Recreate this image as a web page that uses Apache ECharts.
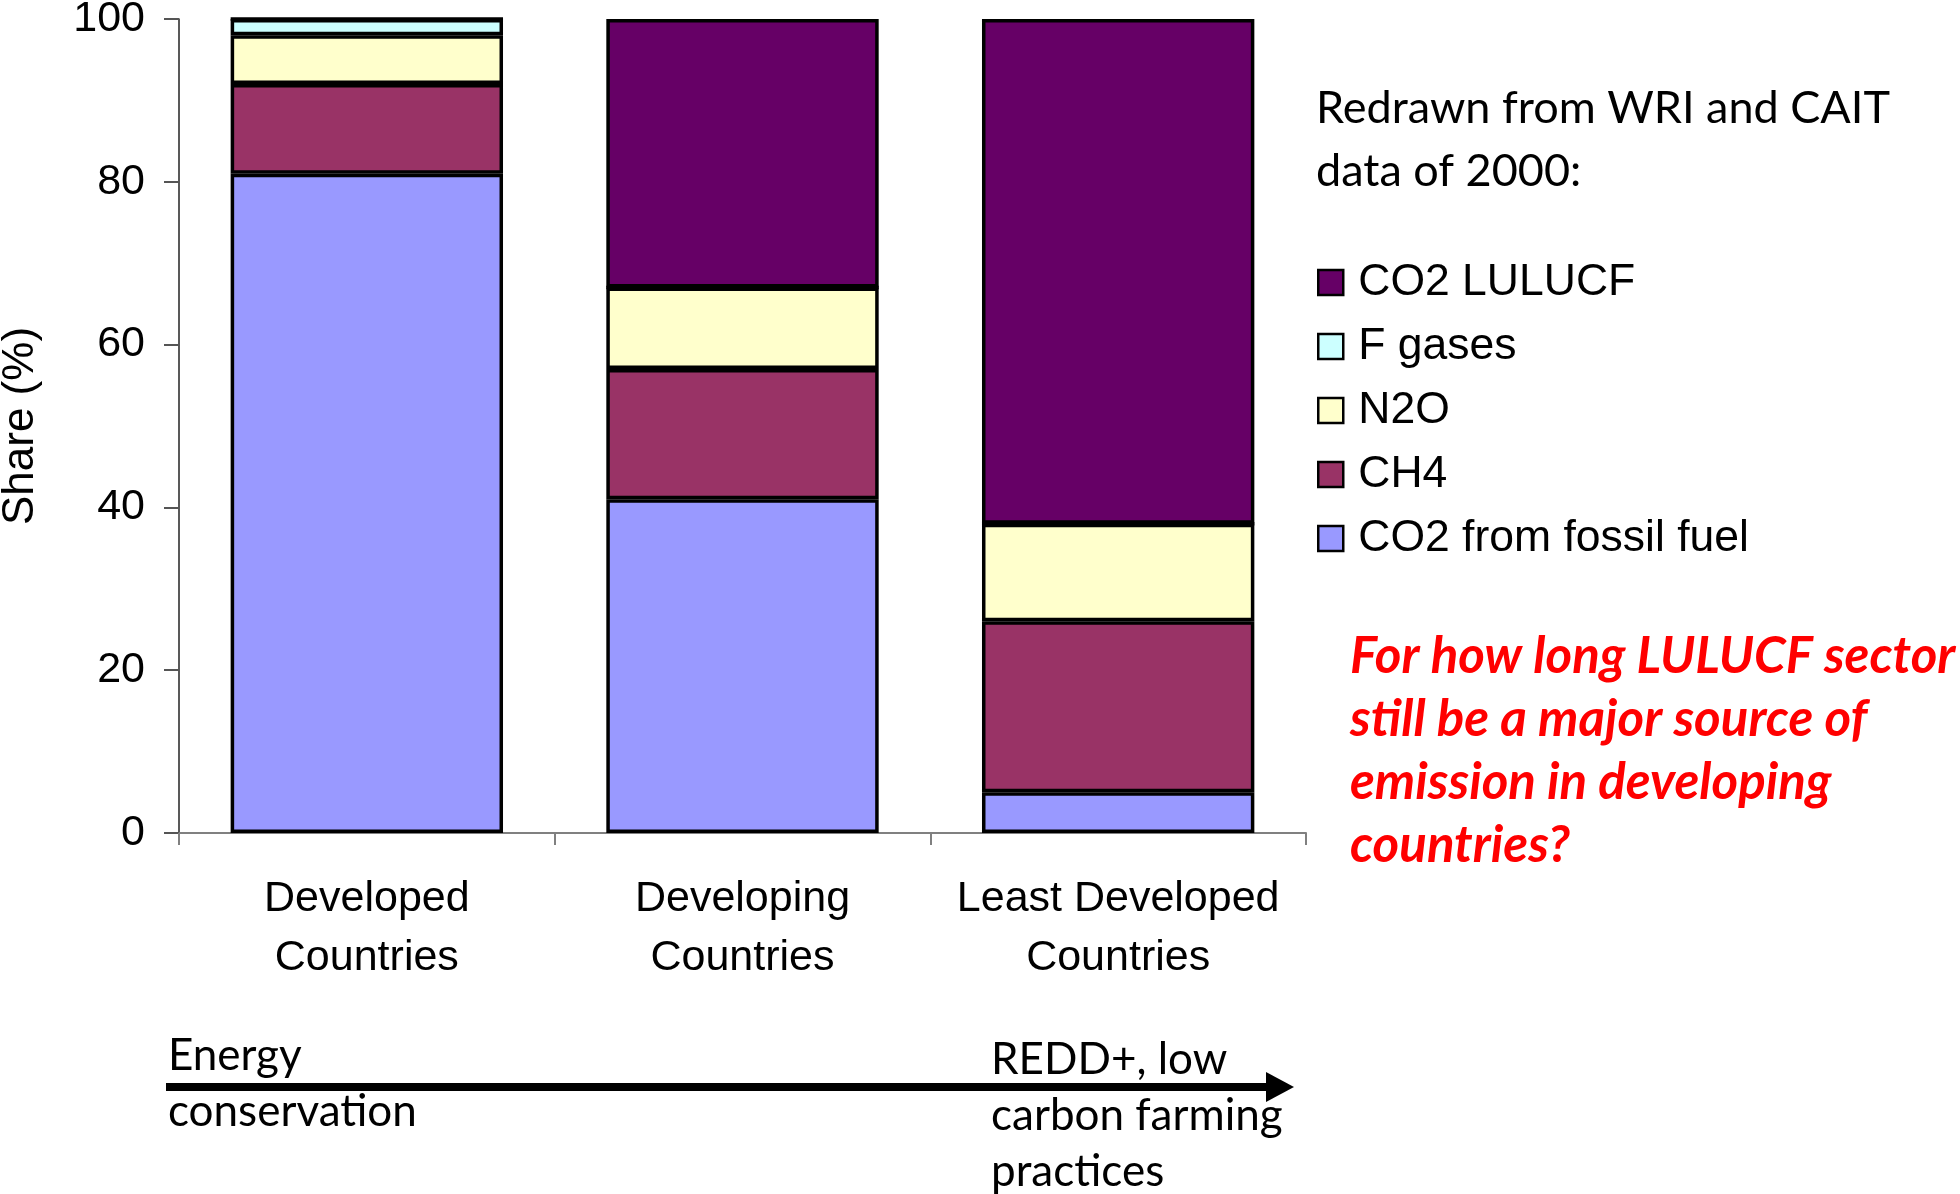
<!DOCTYPE html>
<html>
<head>
<meta charset="utf-8">
<script src="https://cdn.jsdelivr.net/npm/echarts@6/dist/echarts.min.js"></script>
<style>
html,body{margin:0;padding:0;background:#fff;}
#chart{width:1960px;height:1194px;}
</style>
</head>
<body>
<div id="chart"></div>
<script>
const categories = ['Developed\nCountries', 'Developing\nCountries', 'Least Developed\nCountries'];
const seriesNames = ['CO2 from fossil fuel', 'CH4', 'N2O', 'F gases', 'CO2 LULUCF'];
const co2Fossil = [81, 41, 5];
const ch4 = [11, 16, 21];
const n2o = [6, 10, 12];
const fGases = [2, 0, 0];
const co2Lulucf = [0, 33, 62];
const yTicks = [0, 20, 40, 60, 80, 100];
const legendOrder = ['CO2 LULUCF', 'F gases', 'N2O', 'CH4', 'CO2 from fossil fuel'];
const colors = ['#9999FF', '#993366', '#FFFFCC', '#CCFFFF', '#660066'];
const seriesValues = [co2Fossil, ch4, n2o, fGases, co2Lulucf];

const chart = echarts.init(document.getElementById('chart'));
const arial = 'Liberation Sans, Arial, sans-serif';
const calibri = 'Lato, Open Sans, sans-serif';

const series = seriesNames.map((name, i) => ({
  name: name,
  type: 'bar',
  stack: 'total',
  barWidth: '72.5%',
  data: seriesValues[i],
  itemStyle: { color: colors[i], borderColor: '#000', borderWidth: 3.5 },
  emphasis: { disabled: true }
}));

chart.setOption({
  animation: false,
  backgroundColor: '#fff',
  grid: { left: 179, top: 19, right: 654, bottom: 361, containLabel: false, outerBoundsMode: 'none' },
  xAxis: {
    type: 'category',
    data: categories,
    boundaryGap: true,
    axisLine: { lineStyle: { color: '#808080', width: 2 } },
    axisTick: { show: true, interval: 0, length: 12, lineStyle: { color: '#808080', width: 2 } },
    axisLabel: { interval: 0, margin: 37, color: '#000', fontFamily: arial, fontSize: 43, lineHeight: 59 }
  },
  yAxis: {
    type: 'value',
    min: yTicks[0],
    max: yTicks[yTicks.length - 1],
    interval: 20,
    name: 'Share (%)',
    nameLocation: 'middle',
    nameGap: 136,
    nameTextStyle: { color: '#000', fontFamily: arial, fontSize: 44 },
    axisLine: { show: true, lineStyle: { color: '#222', width: 1.5 } },
    axisTick: { show: true, length: 15, lineStyle: { color: '#555', width: 2 } },
    axisLabel: { margin: 34, color: '#000', fontFamily: arial, fontSize: 43 },
    splitLine: { show: false }
  },
  legend: {
    data: legendOrder,
    orient: 'vertical',
    left: 1312,
    top: 255,
    itemWidth: 25,
    itemHeight: 25,
    itemGap: 19,
    icon: 'rect',
    itemStyle: { borderColor: '#000', borderWidth: 2.5 },
    textStyle: { color: '#000', fontFamily: arial, fontSize: 44.5, lineHeight: 42, padding: [0, 0, 0, 10] },
    selectedMode: false
  },
  graphic: [
    { type: 'text', left: 1316, top: 77, style: { text: 'Redrawn from WRI and CAIT\ndata of 2000:', fill: '#000', font: '45px ' + calibri, lineHeight: 63 } },
    { type: 'text', left: 1350, top: 625, style: { text: 'For how long LULUCF sector\nstill be a major source of\nemission in developing\ncountries?', fill: '#FF0000', font: 'italic bold 51px ' + calibri, lineHeight: 63 } },
    { type: 'line', shape: { x1: 166, y1: 1087, x2: 1272, y2: 1087 }, style: { stroke: '#000', lineWidth: 8 } },
    { type: 'polygon', shape: { points: [[1266, 1072], [1294, 1087], [1266, 1102]] }, style: { fill: '#000' } },
    { type: 'text', left: 168, top: 1028, style: { text: 'Energy\nconservation', fill: '#000', font: '44px ' + calibri, lineHeight: 56 } },
    { type: 'text', left: 991, top: 1032, style: { text: 'REDD+, low\ncarbon farming\npractices', fill: '#000', font: '44px ' + calibri, lineHeight: 56 } }
  ],
  series: series
});
</script>
</body>
</html>
